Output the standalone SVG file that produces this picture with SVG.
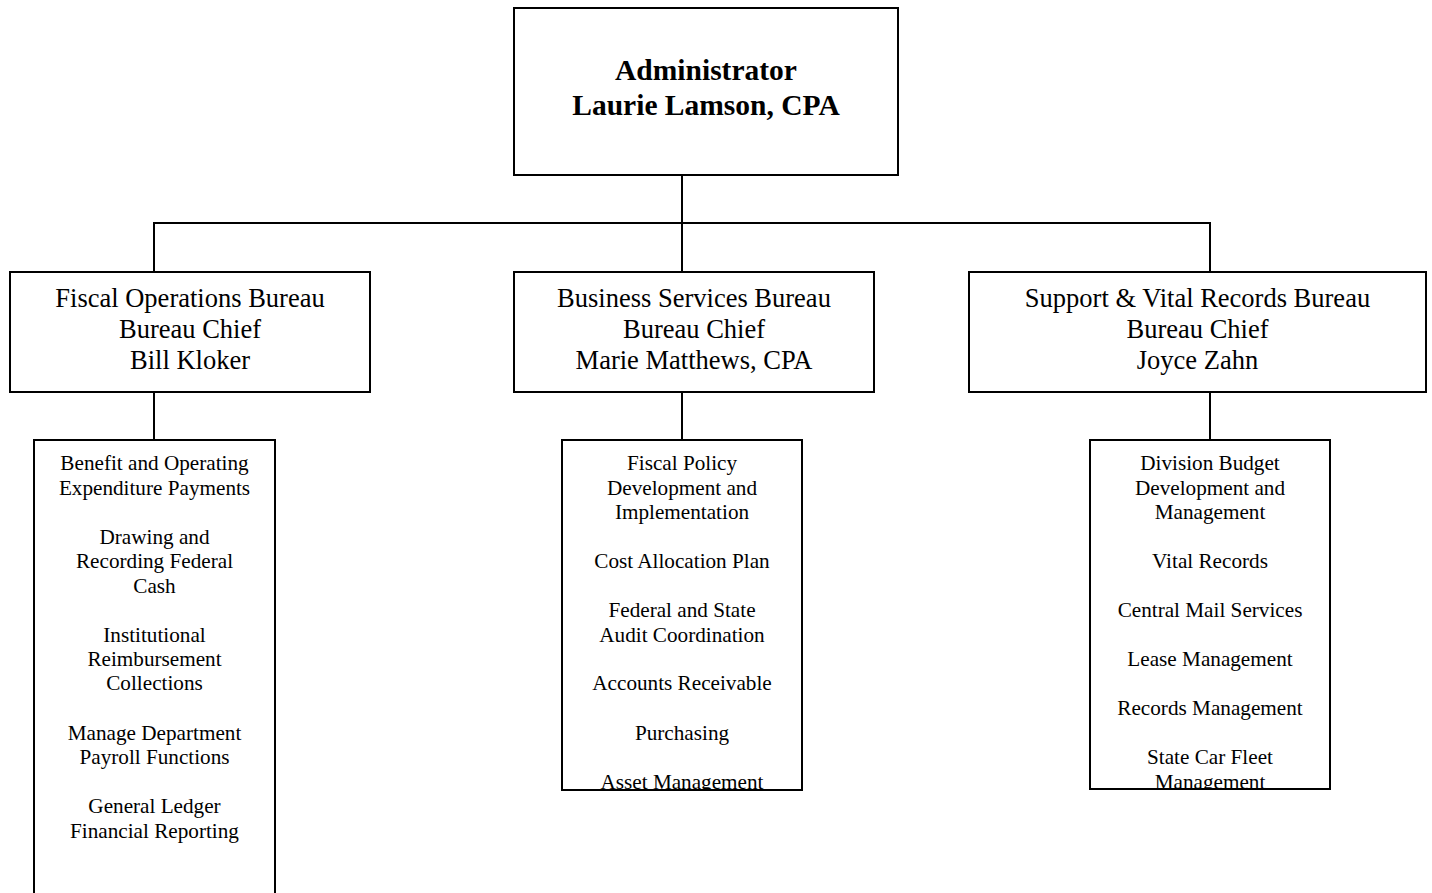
<svg xmlns="http://www.w3.org/2000/svg" width="1432" height="893" viewBox="0 0 1432 893">
<style>
.box{fill:#fff;stroke:#000;stroke-width:2}
.ln{stroke:#000;stroke-width:2;fill:none}
.t{font-family:"Liberation Serif","Times New Roman",serif;fill:#000;text-anchor:middle}
.top{font-size:29.5px;font-weight:bold}
.bur{font-size:26.5px}
.li{font-size:21.2px}
</style>
<defs>
<clipPath id="c2"><rect x="562" y="440" width="240" height="350"/></clipPath>
<clipPath id="c3"><rect x="1090" y="440" width="240" height="349"/></clipPath>
</defs>
<g id="connectors">
<line class="ln" x1="682" y1="175" x2="682" y2="223"/>
<line class="ln" x1="153" y1="223" x2="1211" y2="223"/>
<line class="ln" x1="154" y1="223" x2="154" y2="272"/>
<line class="ln" x1="682" y1="223" x2="682" y2="272"/>
<line class="ln" x1="1210" y1="223" x2="1210" y2="272"/>
<line class="ln" x1="154" y1="392" x2="154" y2="440"/>
<line class="ln" x1="682" y1="392" x2="682" y2="440"/>
<line class="ln" x1="1210" y1="392" x2="1210" y2="440"/>
</g>
<g id="admin">
<rect class="box" x="514" y="8" width="384" height="167"/>
<text class="t top" x="706" y="80">Administrator</text>
<text class="t top" x="706" y="115">Laurie Lamson, CPA</text>
</g>
<g id="fiscal">
<rect class="box" x="10" y="272" width="360" height="120"/>
<text class="t bur" x="190" y="307">Fiscal Operations Bureau</text>
<text class="t bur" x="190" y="338">Bureau Chief</text>
<text class="t bur" x="190" y="369">Bill Kloker</text>
</g>
<g id="business">
<rect class="box" x="514" y="272" width="360" height="120"/>
<text class="t bur" x="694" y="307">Business Services Bureau</text>
<text class="t bur" x="694" y="338">Bureau Chief</text>
<text class="t bur" x="694" y="369">Marie Matthews, CPA</text>
</g>
<g id="support">
<rect class="box" x="969" y="272" width="457" height="120"/>
<text class="t bur" x="1197.5" y="307">Support &amp; Vital Records Bureau</text>
<text class="t bur" x="1197.5" y="338">Bureau Chief</text>
<text class="t bur" x="1197.5" y="369">Joyce Zahn</text>
</g>
<g id="fiscal-list">
<rect class="box" x="34" y="440" width="241" height="470"/>
<text class="t li" x="154.5" y="470">Benefit and Operating</text>
<text class="t li" x="154.5" y="494.5">Expenditure Payments</text>
<text class="t li" x="154.5" y="543.5">Drawing and</text>
<text class="t li" x="154.5" y="568">Recording Federal</text>
<text class="t li" x="154.5" y="592.5">Cash</text>
<text class="t li" x="154.5" y="641.5">Institutional</text>
<text class="t li" x="154.5" y="665.5">Reimbursement</text>
<text class="t li" x="154.5" y="690">Collections</text>
<text class="t li" x="154.5" y="739.5">Manage Department</text>
<text class="t li" x="154.5" y="763.5">Payroll Functions</text>
<text class="t li" x="154.5" y="812.5">General Ledger</text>
<text class="t li" x="154.5" y="837.5">Financial Reporting</text>
</g>
<g id="business-list">
<rect class="box" x="562" y="440" width="240" height="350"/>
<g clip-path="url(#c2)">
<text class="t li" x="682" y="470">Fiscal Policy</text>
<text class="t li" x="682" y="494.5">Development and</text>
<text class="t li" x="682" y="519">Implementation</text>
<text class="t li" x="682" y="568">Cost Allocation Plan</text>
<text class="t li" x="682" y="617">Federal and State</text>
<text class="t li" x="682" y="641.5">Audit Coordination</text>
<text class="t li" x="682" y="690">Accounts Receivable</text>
<text class="t li" x="682" y="739.5">Purchasing</text>
<text class="t li" x="682" y="788.5">Asset Management</text>
</g>
</g>
<g id="support-list">
<rect class="box" x="1090" y="440" width="240" height="349"/>
<g clip-path="url(#c3)">
<text class="t li" x="1210" y="470">Division Budget</text>
<text class="t li" x="1210" y="494.5">Development and</text>
<text class="t li" x="1210" y="519">Management</text>
<text class="t li" x="1210" y="568">Vital Records</text>
<text class="t li" x="1210" y="617">Central Mail Services</text>
<text class="t li" x="1210" y="665.5">Lease Management</text>
<text class="t li" x="1210" y="714.5">Records Management</text>
<text class="t li" x="1210" y="763.5">State Car Fleet</text>
<text class="t li" x="1210" y="788.5">Management</text>
</g>
</g>
</svg>
